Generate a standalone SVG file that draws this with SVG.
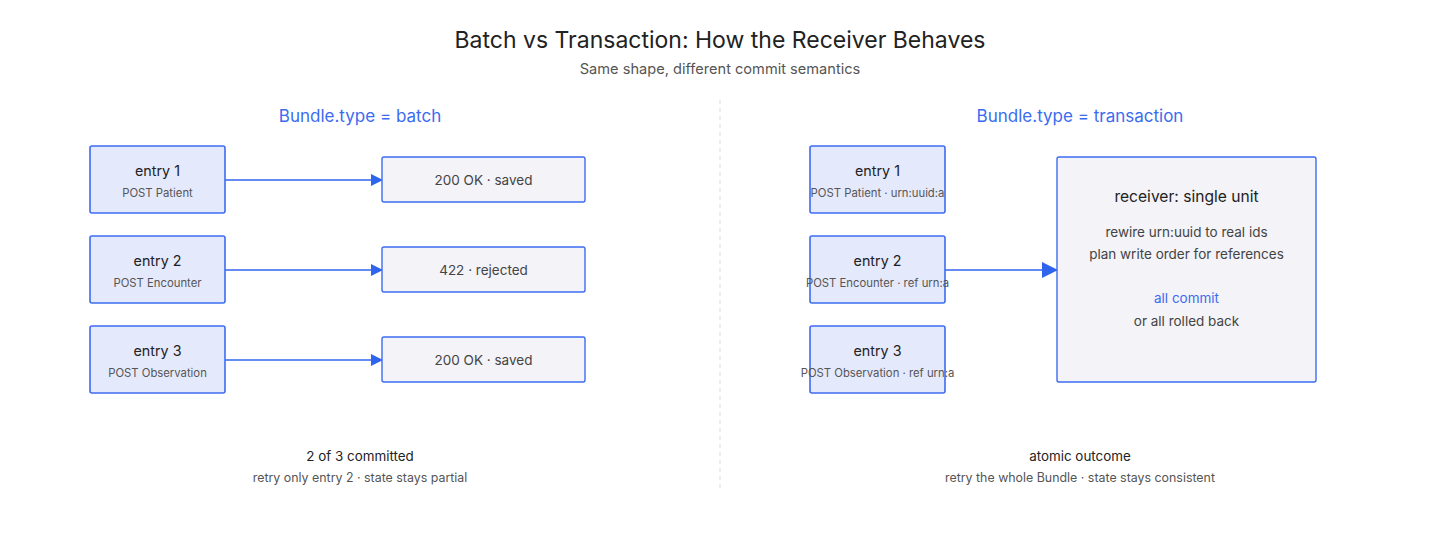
<svg xmlns="http://www.w3.org/2000/svg" width="1440" height="540" viewBox="0 0 1440 540">
<defs>
<marker id="ah" markerWidth="12" markerHeight="12" refX="11" refY="6" orient="auto" markerUnits="userSpaceOnUse" viewBox="0 0 12 12"><path d="M0,0 L12,6 L0,12 z" fill="#2f64ec"/></marker>
<marker id="ahb" markerWidth="16" markerHeight="16" refX="15" refY="8" orient="auto" markerUnits="userSpaceOnUse" viewBox="0 0 16 16"><path d="M0,0 L16,8 L0,16 z" fill="#2f64ec"/></marker>
<style>
text{font-family:Inter,"Liberation Sans",sans-serif;text-anchor:middle}
.title{font-size:23px;fill:#222}
.sub{font-size:14.6px;fill:#555}
.head{font-size:17px;fill:#3b6cf0}
.entry{fill:#e5e9fc;stroke:#3d6cf0;stroke-width:1.6}
.res{fill:#f3f3f8;stroke:#3d6cf0;stroke-width:1.4}
.t1{font-size:14.3px;fill:#222}
.t2{font-size:11.3px;fill:#555}
.t3{font-size:13.5px;fill:#444}
.conn{stroke:#2f64ec;stroke-width:1.6;fill:none}
</style>
</defs>
<rect width="1440" height="540" fill="#ffffff"/>
<text class="title" x="720" y="48">Batch vs Transaction: How the Receiver Behaves</text>
<text class="sub" x="720" y="74">Same shape, different commit semantics</text>
<line x1="720" y1="100" x2="720" y2="492" stroke="#e2e2e2" stroke-width="1.2" stroke-dasharray="4 4"/>
<text class="head" x="360" y="122">Bundle.type = batch</text>
<text class="head" x="1080" y="122">Bundle.type = transaction</text>

<g id="connectors">
<line class="conn" x1="225" y1="180" x2="382" y2="180" marker-end="url(#ah)"/>
<line class="conn" x1="225" y1="270" x2="382" y2="270" marker-end="url(#ah)"/>
<line class="conn" x1="225" y1="360" x2="382" y2="360" marker-end="url(#ah)"/>
<line class="conn" x1="945" y1="270" x2="1057" y2="270" stroke-width="2.6" marker-end="url(#ahb)"/>
</g>

<g id="b-entry1"><rect class="entry" x="90" y="146" width="135" height="67" rx="2"/><text class="t1" x="157.5" y="176">entry 1</text><text class="t2" x="157.5" y="197">POST Patient</text></g>
<g id="b-entry2"><rect class="entry" x="90" y="236" width="135" height="67" rx="2"/><text class="t1" x="157.5" y="266">entry 2</text><text class="t2" x="157.5" y="287">POST Encounter</text></g>
<g id="b-entry3"><rect class="entry" x="90" y="326" width="135" height="67" rx="2"/><text class="t1" x="157.5" y="356">entry 3</text><text class="t2" x="157.5" y="377">POST Observation</text></g>

<g id="b-res1"><rect class="res" x="382" y="157" width="203" height="45" rx="2"/><text class="t3" x="483.5" y="185">200 OK · saved</text></g>
<g id="b-res2"><rect class="res" x="382" y="247" width="203" height="45" rx="2"/><text class="t3" x="483.5" y="275">422 · rejected</text></g>
<g id="b-res3"><rect class="res" x="382" y="337" width="203" height="45" rx="2"/><text class="t3" x="483.5" y="365">200 OK · saved</text></g>

<g id="t-entry1"><rect class="entry" x="810" y="146" width="135" height="67" rx="2"/><text class="t1" x="877.5" y="176">entry 1</text><text class="t2" x="877.5" y="197">POST Patient · urn:uuid:a</text></g>
<g id="t-entry2"><rect class="entry" x="810" y="236" width="135" height="67" rx="2"/><text class="t1" x="877.5" y="266">entry 2</text><text class="t2" x="877.5" y="287">POST Encounter · ref urn:a</text></g>
<g id="t-entry3"><rect class="entry" x="810" y="326" width="135" height="67" rx="2"/><text class="t1" x="877.5" y="356">entry 3</text><text class="t2" x="877.5" y="377">POST Observation · ref urn:a</text></g>

<g id="receiver"><rect class="res" x="1057" y="157" width="259" height="225" rx="2"/>
<text x="1186.5" y="202" style="font-size:15.6px;fill:#222">receiver: single unit</text>
<text class="t3" x="1186.5" y="237">rewire urn:uuid to real ids</text>
<text class="t3" x="1186.5" y="259">plan write order for references</text>
<text x="1186.5" y="303" style="font-size:13.5px;fill:#3b6cf0">all commit</text>
<text class="t3" x="1186.5" y="326">or all rolled back</text>
</g>

<g id="batch-outcome"><text x="360" y="461" style="font-size:13.4px;fill:#222">2 of 3 committed</text><text x="360" y="482" style="font-size:12.4px;fill:#555">retry only entry 2 · state stays partial</text></g>
<g id="tx-outcome"><text x="1080" y="461" style="font-size:13.4px;fill:#222">atomic outcome</text><text x="1080" y="482" style="font-size:12.4px;fill:#555">retry the whole Bundle · state stays consistent</text></g>
</svg>
